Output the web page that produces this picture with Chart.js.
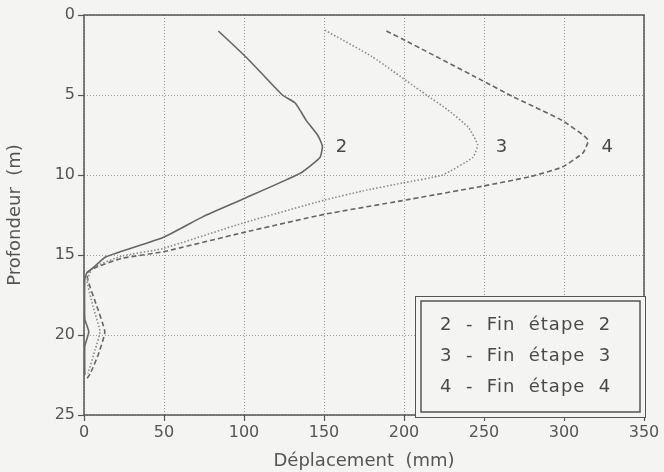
<!DOCTYPE html>
<html>
<head>
<meta charset="utf-8">
<script src="https://cdn.jsdelivr.net/npm/chart.js@4.4.1/dist/chart.umd.min.js"></script>
<style>
  html, body { margin: 0; padding: 0; background: #f4f4f2; }
  #wrap { width: 664px; height: 472px; position: relative; }
</style>
</head>
<body>
<div id="wrap"><canvas id="chart"></canvas></div>
<script>
// Profondeur (m) / déplacement (mm)
const depthEtape2 = [1.0, 2.7, 5.0, 5.5, 6.6, 7.5, 8.2, 8.9, 9.9, 11.5, 12.6, 13.9, 15.1, 15.8, 16.1, 16.5, 19.0, 19.8, 20.7, 22.5];
const deplEtape2  = [84, 102, 124, 132, 139, 146, 149, 147.5, 135, 99.4, 74.4, 49.4, 14, 5.6, 1.9, 0.5, 0.5, 3, 0.5, 0.5];

const depthEtape3 = [0.95, 2.6, 5.0, 5.9, 7.0, 8.1, 8.9, 10.0, 10.5, 11.0, 11.56, 13.0, 14.6, 15.06, 15.8, 16.6, 18.2, 19.8, 20.9, 22.4];
const deplEtape3  = [150.6, 180, 214, 227, 240, 246, 243, 224, 199, 174, 150.6, 99.4, 49, 24, 5.6, 2, 5.6, 10, 7, 2.5];

const depthEtape4 = [1.0, 1.5, 4.1, 5.1, 6.6, 7.8, 8.6, 9.5, 10.1, 10.7, 11.6, 12.45, 13.6, 14.8, 15.2, 15.75, 16.1, 16.6, 18.2, 19.8, 21.2, 22.4, 22.7];
const deplEtape4  = [189, 199, 249, 268, 299, 315, 312, 299, 279, 249, 199, 150.6, 99.4, 49.4, 24, 8, 2, 2.5, 8, 13, 9, 4, 2];

// étiquettes des courbes (en unités du graphe)
const curveLabels = ['2', '3', '4'];
const curveLabelX = [161, 261, 327];
const curveLabelY = [8.25, 8.25, 8.25];

const legendLines = ['2  -  Fin  étape  2', '3  -  Fin  étape  3', '4  -  Fin  étape  4'];

const X_MIN = 0, X_MAX = 350, X_STEP = 50;
const Y_MIN = 0, Y_MAX = 25, Y_STEP = 5;

const INK = '#555555';
const BG = '#f4f4f2';
const FONT = "'DejaVu Sans', sans-serif";

function toPoints(xs, ys) {
  return xs.map((x, i) => ({ x: x, y: ys[i] }));
}

// cadre, étiquettes 2/3/4 et boîte de légende
const decorations = {
  id: 'decorations',
  beforeDatasetsDraw(chart) {
    const { ctx, chartArea: a } = chart;
    ctx.save();
    ctx.strokeStyle = INK;
    ctx.lineWidth = 1.5;
    ctx.strokeRect(a.left, a.top, a.right - a.left, a.bottom - a.top);
    ctx.restore();
  },
  afterDatasetsDraw(chart) {
    const { ctx, chartArea: a, scales } = chart;
    ctx.save();
    ctx.fillStyle = '#4a4a4a';
    ctx.font = '18px ' + FONT;
    ctx.textAlign = 'center';
    ctx.textBaseline = 'middle';
    curveLabels.forEach((t, i) => {
      ctx.fillText(t, scales.x.getPixelForValue(curveLabelX[i]), scales.y.getPixelForValue(curveLabelY[i]));
    });

    // double cadre de la légende
    const ox = a.right - 229, oy = a.bottom - 119, ow = 230, oh = 121;
    ctx.fillStyle = BG;
    ctx.fillRect(ox, oy, ow, oh);
    ctx.strokeStyle = INK;
    ctx.lineWidth = 1;
    ctx.strokeRect(ox + 0.5, oy + 0.5, ow, oh);
    ctx.lineWidth = 1.5;
    ctx.strokeRect(ox + 6, oy + 5, ow - 11, oh - 10);

    ctx.fillStyle = '#4a4a4a';
    ctx.textAlign = 'left';
    ctx.font = '18px ' + FONT;
    ctx.letterSpacing = '1px';
    legendLines.forEach((t, i) => {
      ctx.fillText(t, ox + 25, oy + 29 + i * 31);
    });
    ctx.restore();
  }
};

const tickFont = { family: FONT, size: 16 };
const titleFont = { family: FONT, size: 18 };

new Chart(document.getElementById('chart'), {
  type: 'scatter',
  data: {
    datasets: [
      {
        label: 'Fin étape 2',
        data: toPoints(deplEtape2, depthEtape2),
        showLine: true,
        borderColor: '#666666',
        borderWidth: 1.6,
        pointRadius: 0,
        tension: 0.15
      },
      {
        label: 'Fin étape 3',
        data: toPoints(deplEtape3, depthEtape3),
        showLine: true,
        borderColor: '#8a8a8a',
        borderWidth: 1.6,
        borderDash: [1.5, 2],
        pointRadius: 0,
        tension: 0.15
      },
      {
        label: 'Fin étape 4',
        data: toPoints(deplEtape4, depthEtape4),
        showLine: true,
        borderColor: '#666666',
        borderWidth: 1.6,
        borderDash: [5, 3],
        pointRadius: 0,
        tension: 0.15
      }
    ]
  },
  options: {
    responsive: true,
    maintainAspectRatio: false,
    animation: false,
    layout: { padding: { top: 15, right: 20, left: 0, bottom: 0 } },
    plugins: {
      legend: { display: false },
      tooltip: { enabled: false }
    },
    scales: {
      x: {
        type: 'linear',
        min: X_MIN,
        max: X_MAX,
        ticks: { stepSize: X_STEP, color: INK, font: tickFont, padding: 2, maxRotation: 0 },
        grid: { color: '#9a9a9a', lineWidth: 1, tickLength: 6, tickColor: INK, tickWidth: 1.2 },
        border: { display: false, dash: [1, 2] },
        title: { display: true, text: 'Déplacement  (mm)', color: INK, font: titleFont, padding: { top: 0, bottom: 0 } },
        afterFit(scale) { scale.height = 57; }
      },
      y: {
        type: 'linear',
        reverse: true,
        min: Y_MIN,
        max: Y_MAX,
        ticks: { stepSize: Y_STEP, color: INK, font: tickFont, padding: 3 },
        grid: { color: '#9a9a9a', lineWidth: 1, tickLength: 6, tickColor: INK, tickWidth: 1.2 },
        border: { display: false, dash: [1, 2] },
        title: { display: true, text: 'Profondeur  (m)', color: INK, font: titleFont, padding: { top: 5, bottom: 0 } },
        afterFit(scale) { scale.width = 84; }
      }
    }
  },
  plugins: [decorations]
});
</script>
</body>
</html>
